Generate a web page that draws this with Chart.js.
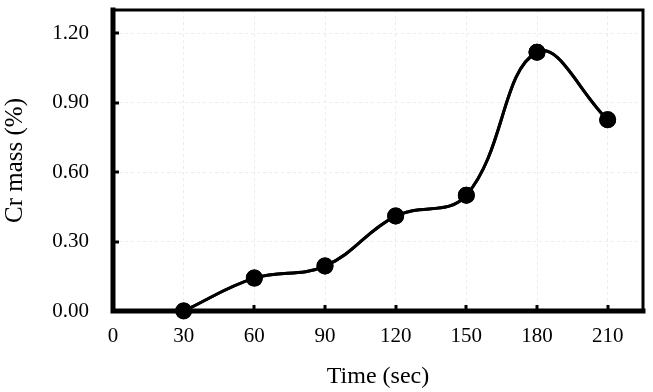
<!DOCTYPE html>
<html>
<head>
<meta charset="utf-8">
<script src="https://cdn.jsdelivr.net/npm/chart.js@4.4.1/dist/chart.umd.min.js"></script>
<style>
html,body{margin:0;padding:0;background:#fff;}
#wrap{width:653px;height:392px;}
</style>
</head>
<body>
<div id="wrap"><canvas id="c" width="653" height="392"></canvas></div>
<script>
const timeSec = [30, 60, 90, 120, 150, 180, 210];
const crMass = [0.00, 0.142, 0.194, 0.41, 0.50, 1.118, 0.826];
const xTickValues = [0, 30, 60, 90, 120, 150, 180, 210];
const yTickValues = [0.00, 0.30, 0.60, 0.90, 1.20];
const xTitle = 'Time (sec)';
const yTitle = 'Cr mass (%)';

const FONT = '"Liberation Serif", "Times New Roman", serif';

const framePlugin = {
  id: 'frame',
  afterDraw(chart) {
    const {ctx, chartArea: a, scales} = chart;
    ctx.save();
    ctx.strokeStyle = '#000';
    ctx.lineWidth = 3;
    ctx.lineCap = 'butt';
    xTickValues.forEach(v => {
      if (v === 0) return;
      const px = Math.round(scales.x.getPixelForValue(v));
      ctx.beginPath(); ctx.moveTo(px, a.bottom); ctx.lineTo(px, a.bottom - 6); ctx.stroke();
    });
    yTickValues.forEach(v => {
      if (v === 0) return;
      const py = Math.round(scales.y.getPixelForValue(v));
      ctx.beginPath(); ctx.moveTo(a.left, py); ctx.lineTo(a.left + 6, py); ctx.stroke();
    });
    ctx.lineWidth = 3;
    ctx.lineCap = 'square';
    ctx.beginPath();
    ctx.moveTo(a.left, a.top); ctx.lineTo(a.right, a.top); ctx.lineTo(a.right, a.bottom);
    ctx.stroke();
    ctx.lineWidth = 5;
    ctx.beginPath();
    ctx.moveTo(a.left, a.top); ctx.lineTo(a.left, a.bottom); ctx.lineTo(a.right, a.bottom);
    ctx.stroke();
    ctx.restore();
  }
};

const pointsPlugin = {
  id: 'redrawData',
  afterDraw(chart) {
    chart.getDatasetMeta(0).controller.draw();
  }
};

new Chart(document.getElementById('c'), {
  type: 'line',
  data: {
    datasets: [{
      data: timeSec.map((t, i) => ({x: t, y: crMass[i]})),
      borderColor: '#000',
      backgroundColor: '#000',
      borderWidth: 3,
      pointRadius: 7,
      pointHoverRadius: 7,
      pointBackgroundColor: '#000',
      pointBorderColor: '#000',
      tension: 0.4,
      fill: false
    }]
  },
  options: {
    responsive: false,
    animation: false,
    events: [],
    layout: {padding: {left: 0, right: 8, top: 5, bottom: 0}},
    plugins: {legend: {display: false}, tooltip: {enabled: false}},
    scales: {
      x: {
        type: 'linear',
        min: 0,
        max: 225,
        afterBuildTicks: s => { s.ticks = xTickValues.map(v => ({value: v})); },
        afterFit: s => { s.height = 81; s.paddingLeft = 0; s.paddingRight = 0; },
        grid: {color: '#ececec', lineWidth: 1, drawTicks: false, tickLength: 0},
        border: {display: false, dash: [3, 3]},
        ticks: {
          color: '#000',
          font: {family: FONT, size: 21},
          padding: 13,
          maxRotation: 0,
          autoSkip: false,
          callback: v => String(v)
        },
        title: {
          display: true,
          text: xTitle,
          color: '#000',
          font: {family: FONT, size: 24},
          padding: {top: 0, bottom: 1}
        }
      },
      y: {
        type: 'linear',
        min: 0,
        max: 1.3,
        afterBuildTicks: s => { s.ticks = yTickValues.map(v => ({value: v})); },
        afterFit: s => { s.width = 113; s.paddingTop = 0; s.paddingBottom = 0; },
        grid: {color: '#ececec', lineWidth: 1, drawTicks: false, tickLength: 0},
        border: {display: false, dash: [3, 3]},
        ticks: {
          color: '#000',
          font: {family: FONT, size: 21},
          padding: 24,
          callback: v => Number(v).toFixed(2)
        },
        title: {
          display: true,
          text: yTitle,
          color: '#000',
          font: {family: FONT, size: 25},
          padding: {top: 0, bottom: 0}
        }
      }
    }
  },
  plugins: [framePlugin, pointsPlugin]
});
</script>
</body>
</html>
